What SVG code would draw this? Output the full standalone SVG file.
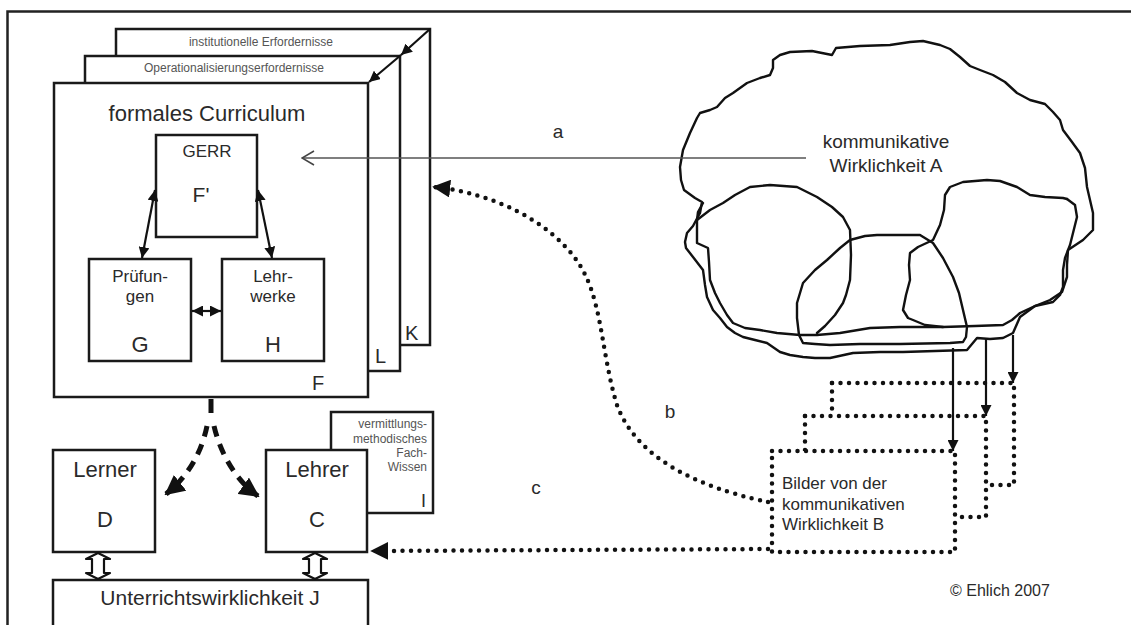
<svg xmlns="http://www.w3.org/2000/svg" width="1131" height="625" viewBox="0 0 1131 625">
<defs>
<style>
.box{fill:#fff;stroke:#1a1a1a;stroke-width:2.5}
.t{font-family:"Liberation Sans",Arial,sans-serif;fill:#2a2a2a}
.sm{font-family:"Liberation Sans",Arial,sans-serif;fill:#555;font-size:12px}
.ln{fill:none;stroke:#111;stroke-width:2.2}
.cl{fill:none;stroke:#111;stroke-width:2.4;stroke-linejoin:round;stroke-linecap:round}
.dot{fill:none;stroke:#111;stroke-width:4.5;stroke-linecap:round;stroke-dasharray:0 8.5}
.dash{fill:none;stroke:#111;stroke-width:5;stroke-dasharray:11 8}
.hollow{fill:#fff;stroke:#111;stroke-width:2.2;stroke-linejoin:round}
</style>
<marker id="ah" viewBox="0 0 10 10" refX="10" refY="5" markerWidth="11" markerHeight="11" markerUnits="userSpaceOnUse" orient="auto-start-reverse">
<path d="M0,0 L10,5 L0,10 Z" fill="#111"/>
</marker>
<marker id="ahd" viewBox="0 0 10 10" refX="9" refY="5" markerWidth="4" markerHeight="4" orient="auto">
<path d="M0,0 L10,5 L0,10 Z" fill="#111"/>
</marker>
<marker id="open" viewBox="0 0 14 16" refX="13" refY="8" markerWidth="14" markerHeight="16" markerUnits="userSpaceOnUse" orient="auto">
<path d="M1,1 L13,8 L1,15" fill="none" stroke="#444" stroke-width="1.6"/>
</marker>
</defs>
<rect width="1131" height="625" fill="#fff"/>

<!-- outer frame -->
<path d="M1131,11.5 L7.5,11.5 L7.5,625" fill="none" stroke="#222" stroke-width="2.5"/>

<!-- pages -->
<g id="page-K">
<rect class="box" x="116" y="29" width="314" height="316"/>
<text class="sm" x="261" y="46" text-anchor="middle">institutionelle Erfordernisse</text>
<text class="t" x="405" y="340" font-size="20">K</text>
</g>
<g id="page-L">
<rect class="box" x="85" y="56" width="315" height="315"/>
<text class="sm" x="234" y="72" text-anchor="middle">Operationalisierungserfordernisse</text>
<text class="t" x="375" y="363" font-size="20">L</text>
</g>
<g id="page-F">
<rect class="box" x="54" y="83" width="314" height="314"/>
<text class="t" x="207" y="121" font-size="22" text-anchor="middle">formales Curriculum</text>
<text class="t" x="312" y="390" font-size="20">F</text>
</g>
<g id="gerr">
<rect class="box" x="156" y="135" width="101" height="102"/>
<text class="t" x="207" y="157" font-size="17" text-anchor="middle">GERR</text>
<text class="t" x="201" y="202" font-size="21" text-anchor="middle">F'</text>
</g>
<g id="pruefungen">
<rect class="box" x="89" y="259" width="102" height="102"/>
<text class="t" x="140" y="282" font-size="17" text-anchor="middle">Prüfun-</text>
<text class="t" x="140" y="302" font-size="17" text-anchor="middle">gen</text>
<text class="t" x="140" y="352" font-size="22" text-anchor="middle">G</text>
</g>
<g id="lehrwerke">
<rect class="box" x="222" y="259" width="102" height="102"/>
<text class="t" x="273" y="282" font-size="17" text-anchor="middle">Lehr-</text>
<text class="t" x="273" y="302" font-size="17" text-anchor="middle">werke</text>
<text class="t" x="273" y="352" font-size="22" text-anchor="middle">H</text>
</g>
<g id="fachwissen">
<rect class="box" x="331" y="412" width="102" height="101"/>
<text class="sm" x="427" y="428" text-anchor="end">vermittlungs-</text>
<text class="sm" x="427" y="443" text-anchor="end">methodisches</text>
<text class="sm" x="427" y="457" text-anchor="end">Fach-</text>
<text class="sm" x="427" y="471" text-anchor="end">Wissen</text>
<text class="t" x="421" y="507" font-size="18">I</text>
</g>
<g id="lerner">
<rect class="box" x="53" y="450" width="102" height="102"/>
<text class="t" x="105" y="477" font-size="22" text-anchor="middle">Lerner</text>
<text class="t" x="105" y="527" font-size="22" text-anchor="middle">D</text>
</g>
<g id="lehrer">
<rect class="box" x="266" y="450" width="101" height="102"/>
<text class="t" x="317" y="477" font-size="22" text-anchor="middle">Lehrer</text>
<text class="t" x="317" y="527" font-size="22" text-anchor="middle">C</text>
</g>
<g id="unterricht">
<rect class="box" x="53" y="580" width="315" height="50"/>
<text class="t" x="210" y="605" font-size="21" text-anchor="middle">Unterrichtswirklichkeit J</text>
</g>

<!-- cloud -->
<g id="cloud">
<path class="cl" d="M680,167 L683,150 690,133 697,118 700,113 710,110 717,107 725,98 733,93 747,83 760,78 770,75 773,68 773,60 780,55 790,52 812,51 832,55 836,48 860,46 890,45 910,42 923,41 940,45 950,49 960,57 970,66 980,70 993,75 1005,82 1017,93 1030,100 1045,104 1053,112 1060,120 1063,130 1072,142 1080,153 1085,168 1087,187 1090,200 1093,213 1093,230 1083,240 1068,250 1067,265 1067,277 1062,292 1050,300 1035,306 1020,317 1013,333 1003,338 990,339 977,338 967,350 935,351 903,352 880,352 853,353 830,358 815,358 803,357 790,355 780,352 767,343 755,340 743,337 735,333 727,327 720,318 713,310 707,297 705,285 703,270 693,257 686,248 685,242 687,233 693,226 700,213 702,202 695,198 684,190 681,180 Z"/>
<path class="cl" d="M703,203 L698,212 697,220 697,243 708,248 709,262 710,280 715,293 720,303 727,315 733,323 745,328 760,330 777,333 800,335 817,335 840,333 870,328 900,327 943,327 975,326 1003,325 1012,320 1020,313 1035,306 1053,302 1060,295 1063,287 1063,270 1065,258 1070,245 1073,233 1077,217 1075,205 1067,199"/>
<path class="cl" d="M697,220 L710,210 723,203 735,195 750,187 770,185 797,187 817,197 832,207 843,217 850,230 851,255 850,280 846,295 843,303 835,315 825,326 817,333"/>
<path class="cl" d="M1067,199 L1063,198 1045,197 1030,195 1017,187 1000,181 987,180 963,182 950,187 945,195 944,210 940,225 933,240 918,247 910,253 909,265 910,280 906,295 903,310 908,318 913,320 925,325 943,327"/>
<path class="cl" d="M803,343 L799,335 797,318 797,303 803,283 815,270 827,260 840,248 850,240 865,236 877,235 900,235 920,235 933,243 943,258 953,277 959,293 963,310 967,327 966,337 963,342 950,343 900,344 860,344 830,345 815,344 Z"/>
<text class="t" x="886" y="148" font-size="19" text-anchor="middle">kommunikative</text>
<text class="t" x="886" y="172" font-size="19" text-anchor="middle">Wirklichkeit A</text>
</g>

<!-- Bilder pages -->
<g id="bilder">
<rect x="832" y="383" width="182" height="102" fill="#fff" stroke="none"/>
<path class="dot" d="M832,383 L1014,383 L1014,485 L986,485"/>
<path class="dot" d="M832,383 L832,416"/>
<rect x="805" y="416" width="181" height="101" fill="#fff" stroke="none"/>
<path class="dot" d="M805,416 L986,416 L986,517 L955,517"/>
<path class="dot" d="M805,416 L805,451"/>
<rect x="772" y="451" width="183" height="101" fill="#fff" stroke="none"/>
<path class="dot" d="M772,451 L955,451 L955,552 L772,552 Z"/>
<text class="t" x="782" y="489" font-size="17">Bilder von der</text>
<text class="t" x="782" y="510" font-size="17">kommunikativen</text>
<text class="t" x="782" y="530" font-size="17">Wirklichkeit B</text>
</g>

<text class="t" x="950" y="596" font-size="16">© Ehlich 2007</text>

<!-- connectors -->
<g id="connectors">
<line x1="430" y1="29" x2="401" y2="55" class="ln" marker-end="url(#ah)"/>
<line x1="401" y1="55" x2="369" y2="82" class="ln" marker-end="url(#ah)"/>
<line x1="155" y1="190" x2="142" y2="258" class="ln" marker-start="url(#ah)" marker-end="url(#ah)"/>
<line x1="258" y1="190" x2="272" y2="258" class="ln" marker-start="url(#ah)" marker-end="url(#ah)"/>
<line x1="192" y1="311" x2="221" y2="311" class="ln" marker-start="url(#ah)" marker-end="url(#ah)"/>
<line x1="806" y1="158" x2="302" y2="158" stroke="#555" stroke-width="1.5" marker-end="url(#open)"/>
<text class="t" x="558" y="138" font-size="19" text-anchor="middle">a</text>
<path class="dot" d="M768,502 C720,492 640,468 617,405 C600,350 603,295 575,258 C548,222 495,193 434,187" marker-end="url(#ahd)"/>
<text class="t" x="670" y="418" font-size="19" text-anchor="middle">b</text>
<path class="dot" d="M768,549 L372,551" marker-end="url(#ahd)"/>
<text class="t" x="536" y="494" font-size="19" text-anchor="middle">c</text>
<line x1="211" y1="399" x2="211" y2="413" stroke="#111" stroke-width="5"/>
<path class="dash" d="M207,426 C202,450 190,475 166,494" marker-end="url(#ahd)"/>
<path class="dash" d="M214,426 C220,452 235,480 258,496" marker-end="url(#ahd)"/>
<line x1="953" y1="348" x2="953" y2="451" class="ln" marker-end="url(#ah)"/>
<line x1="986" y1="338" x2="986" y2="416" class="ln" marker-end="url(#ah)"/>
<line x1="1013" y1="335" x2="1013" y2="383" class="ln" marker-end="url(#ah)"/>
<path class="hollow" d="M98,553 L110,559 L104,559 L104,573 L110,573 L98,579 L86,573 L92,573 L92,559 L86,559 Z"/>
<path class="hollow" d="M315,553 L327,559 L321,559 L321,573 L327,573 L315,579 L303,573 L309,573 L309,559 L303,559 Z"/>
</g>
</svg>
